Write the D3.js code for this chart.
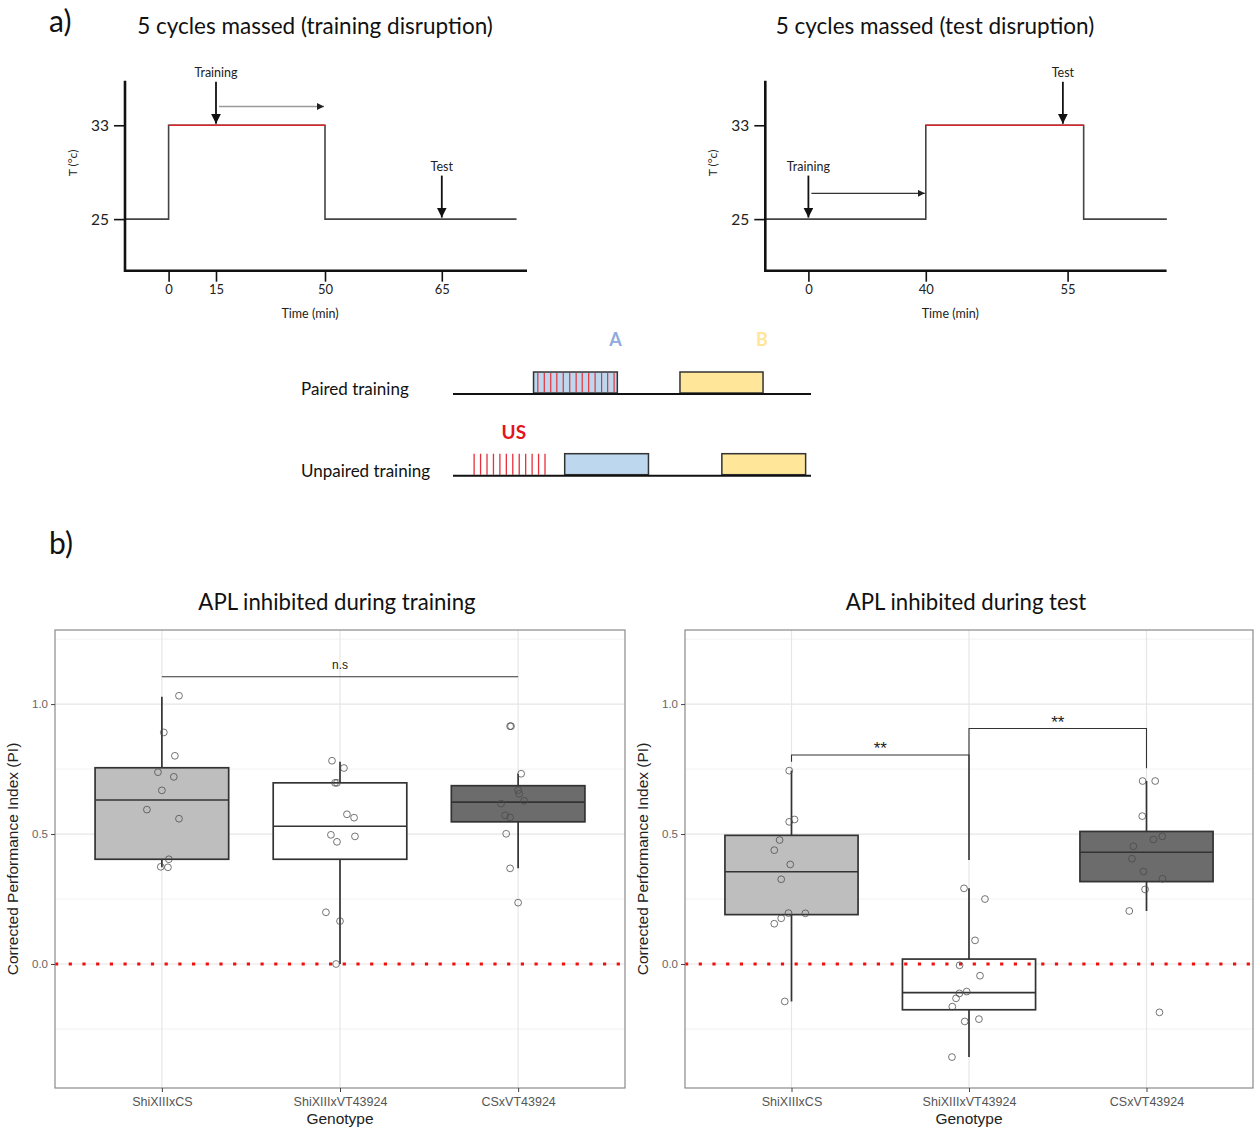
<!DOCTYPE html>
<html><head><meta charset="utf-8">
<script src="https://cdn.jsdelivr.net/npm/d3@7"></script>
<style>body{margin:0;background:#fff} svg{display:block}</style>
</head><body>
<svg id="fig" width="1254" height="1129"></svg>
<script>
// ================= DATA =================
// --- a) temperature schematics ---
const tempTicks = [25, 33];
const tempExtent = [20.6, 36.8];
const trainDisruptTimeTicks = [0, 15, 50, 65];
const testDisruptTimeTicks = [0, 40, 55];
const trainDisruptSteps = [[-13.8, 25], [0, 25], [0, 33], [50, 33], [50, 25], [74.6, 25]];
const testDisruptSteps = [[-14.7, 25], [40, 25], [40, 33], [56.7, 33], [56.7, 25], [65.5, 25]];
const trainDisruptHeat = [0, 50];
const testDisruptHeat = [40, 56.7];
const trainDisruptEvents = [{name: "Training", t: 15, T: 33}, {name: "Test", t: 65, T: 25}];
const testDisruptEvents = [{name: "Training", t: 0, T: 25}, {name: "Test", t: 54.5, T: 33}];
const trainDisruptShift = [15, 50];
const testDisruptShift = [0, 40];

// --- a) conditioning protocol (schematic time units 0-100) ---
const protocolRows = ["Paired training", "Unpaired training"];
const odorBlocks = [
  {row: 0, odor: "A", start: 22.5, end: 45.9},
  {row: 0, odor: "B", start: 63.4, end: 86.6},
  {row: 1, odor: "A", start: 31.2, end: 54.6},
  {row: 1, odor: "B", start: 75.1, end: 98.5}
];
const pairedShocks = [23.7, 25.5, 27.3, 29.0, 30.8, 32.6, 34.4, 36.1, 37.9, 39.7, 41.5, 43.2, 45.0];
const unpairedShocks = [5.9, 7.7, 9.5, 11.3, 13.1, 14.9, 16.7, 18.5, 20.3, 22.1, 23.9, 25.7];
const odorLabels = [{odor: "A", t: 45.4}, {odor: "B", t: 86.3}];
const usLabel = {text: "US", t: 17.0};

// --- b) box plots ---
const genotypes = ["ShiXIIIxCS", "ShiXIIIxVT43924", "CSxVT43924"];
const yMajorTicks = [0, 0.5, 1.0];
const yMinorTicks = [-0.25, 0.25, 0.75, 1.25];
const yLimits = [-0.477, 1.285];

// box stats: [lowerWhisker, Q1, median, Q3, upperWhisker]
const trainingStats = [
  [0.372, 0.403, 0.631, 0.755, 1.028],
  [0.0, 0.403, 0.530, 0.697, 0.778],
  [0.368, 0.547, 0.623, 0.686, 0.732]
];
const testStats = [
  [-0.144, 0.190, 0.355, 0.495, 0.744],
  [-0.358, -0.176, -0.110, 0.019, 0.291],
  [0.204, 0.317, 0.430, 0.510, 0.704]
];
// points: [jitter (category units), PI]
const trainingPoints = [
  [[0.096, 1.032], [0.011, 0.891], [0.073, 0.801], [-0.022, 0.738], [0.067, 0.720], [0, 0.668],
   [-0.084, 0.594], [0.096, 0.559], [0.039, 0.403], [-0.006, 0.374], [0.034, 0.372]],
  [[-0.045, 0.782], [0.022, 0.754], [-0.028, 0.697], [-0.017, 0.697], [0.039, 0.576], [0.079, 0.563],
   [-0.051, 0.497], [0.084, 0.491], [-0.017, 0.470], [-0.079, 0.199], [0, 0.165], [-0.022, 0.0]],
  [[-0.045, 0.915], [-0.040, 0.915], [0.017, 0.732], [0, 0.669], [0.006, 0.655], [0.034, 0.628],
   [-0.096, 0.617], [-0.073, 0.572], [-0.045, 0.564], [-0.067, 0.501], [-0.045, 0.368], [0, 0.236]]
];
const testPoints = [
  [[-0.013, 0.744], [0.017, 0.556], [-0.013, 0.547], [-0.067, 0.477], [-0.097, 0.438], [-0.007, 0.383],
   [-0.058, 0.326], [-0.017, 0.196], [0.078, 0.195], [-0.058, 0.176], [-0.097, 0.155], [-0.038, -0.144]],
  [[-0.028, 0.291], [0.090, 0.250], [0.034, 0.091], [-0.053, -0.005], [0.062, -0.045], [-0.013, -0.106],
   [-0.054, -0.113], [-0.073, -0.132], [-0.094, -0.164], [0.056, -0.212], [-0.024, -0.221], [-0.096, -0.358]],
  [[-0.022, 0.704], [0.049, 0.704], [-0.024, 0.569], [0.089, 0.491], [0.039, 0.479], [-0.074, 0.453],
   [-0.082, 0.405], [-0.017, 0.356], [0.090, 0.328], [-0.008, 0.287], [-0.097, 0.204], [0.073, -0.186]]
];
// significance brackets: [fromIdx, toIdx, y, leftLegEnd, rightLegEnd, label]
const trainingBrackets = [[0, 2, 1.105, 1.105, 1.105, "n.s"]];
const testBrackets = [
  [0, 1, 0.804, 0.778, 0.40, "**"],
  [1, 2, 0.906, 0.40, 0.753, "**"]
];
const referenceLine = 0;

// ================= DRAW =================
const svg = d3.select("#fig");
svg.append("rect").attr("width", 1254).attr("height", 1129).attr("fill", "#fff");
const CAL = "Lato, 'Open Sans', 'Noto Sans', sans-serif";
const ARIAL = "'Liberation Sans', Arial, Helvetica, sans-serif";

const defs = svg.append("defs");
function marker(id, size, color) {
  defs.append("marker").attr("id", id).attr("viewBox", "0 0 10 10")
    .attr("refX", 10).attr("refY", 5).attr("markerUnits", "userSpaceOnUse")
    .attr("markerWidth", size).attr("markerHeight", size).attr("orient", "auto")
    .append("path").attr("d", "M0,0L10,5L0,10Z").attr("fill", color);
}
marker("arrowBig", 10, "#111");
marker("arrowSmall", 7, "#222");

svg.append("text").attr("x", 49).attr("y", 32).text("a)")
  .style("font-family", CAL).style("font-size", "30px").attr("fill", "#111");
svg.append("text").attr("x", 49).attr("y", 554).text("b)")
  .style("font-family", CAL).style("font-size", "30px").attr("fill", "#111");

// ---------- temperature diagrams ----------
function tempDiagram(cfg) {
  const g = svg.append("g");
  const y = d3.scaleLinear().domain(tempExtent).range([270.7, 80.7]);
  const x = d3.scaleLinear().domain(cfg.ticks).range(cfg.rangeOffsets.map(v => v + cfg.ox));
  const xEnd = cfg.ox + cfg.width;

  g.append("text").attr("x", cfg.titleX).attr("y", 34).attr("text-anchor", "middle")
    .text(cfg.title).style("font-family", CAL).style("font-size", "22.5px").attr("fill", "#111");

  // step line
  const line = d3.line().x(d => x(d[0])).y(d => y(d[1])).curve(d3.curveLinear);
  g.append("path").attr("d", line(cfg.steps)).attr("fill", "none")
    .attr("stroke", "#444").attr("stroke-width", 1.6);
  g.append("path").attr("d", line([[cfg.heat[0], 33], [cfg.heat[1], 33]]))
    .attr("stroke", "#d9262b").attr("stroke-width", 1.6);

  // axes
  const ax = g.append("g").attr("transform", `translate(0,${y(tempExtent[0])})`)
    .call(d3.axisBottom(x).tickValues(cfg.ticks).tickSize(11).tickPadding(3).tickFormat(d3.format("d")));
  ax.select(".domain").remove();
  ax.selectAll(".tick line").attr("stroke", "#111").attr("stroke-width", 1.6);
  ax.selectAll(".tick text").style("font-family", CAL).style("font-size", "13px").attr("fill", "#222");

  const ay = g.append("g").attr("transform", `translate(${cfg.ox},0)`)
    .call(d3.axisLeft(y).tickValues(tempTicks).tickSize(11).tickPadding(5));
  ay.select(".domain").remove();
  ay.selectAll(".tick line").attr("stroke", "#111").attr("stroke-width", 1.6);
  ay.selectAll(".tick text").style("font-family", CAL).style("font-size", "15.5px").attr("fill", "#222");

  g.append("path").attr("d", `M${cfg.ox},${y(tempExtent[1])}V${y(tempExtent[0])}H${xEnd}`)
    .attr("fill", "none").attr("stroke", "#111").attr("stroke-width", 2.6);

  g.append("text").attr("transform", `translate(${cfg.ox - 48},${163}) rotate(-90)`)
    .attr("text-anchor", "middle").text("T (°c)")
    .style("font-family", CAL).style("font-size", "12px").attr("fill", "#222");
  g.append("text").attr("x", cfg.ox + 185).attr("y", 318).attr("text-anchor", "middle")
    .text("Time (min)").style("font-family", CAL).style("font-size", "12.5px").attr("fill", "#222");

  // event arrows
  cfg.events.forEach(e => {
    const yEnd = y(e.T) - 1.5;
    const yStart = yEnd - 42;
    g.append("line").attr("x1", x(e.t)).attr("x2", x(e.t)).attr("y1", yStart).attr("y2", yEnd)
      .attr("stroke", "#111").attr("stroke-width", 1.8).attr("marker-end", "url(#arrowBig)");
    g.append("text").attr("x", x(e.t)).attr("y", yStart - 5).attr("text-anchor", "middle")
      .text(e.name).style("font-family", CAL).style("font-size", "12.5px").attr("fill", "#222");
  });
  // shift arrow
  g.append("line").attr("x1", x(cfg.shift[0]) + 3).attr("x2", x(cfg.shift[1]) - 1)
    .attr("y1", y(cfg.shiftT)).attr("y2", y(cfg.shiftT))
    .attr("stroke", cfg.shiftColor).attr("stroke-width", 1.3).attr("marker-end", "url(#arrowSmall)");
}

tempDiagram({
  ox: 125, width: 402, title: "5 cycles massed (training disruption)", titleX: 315,
  ticks: trainDisruptTimeTicks, rangeOffsets: [43.6, 91, 200, 316.8],
  steps: trainDisruptSteps, heat: trainDisruptHeat, events: trainDisruptEvents,
  shift: trainDisruptShift, shiftT: 34.6, shiftColor: "#9a9a9a"
});
tempDiagram({
  ox: 765.3, width: 401.3, title: "5 cycles massed (test disruption)", titleX: 935,
  ticks: testDisruptTimeTicks, rangeOffsets: [43.1, 160.5, 302.3],
  steps: testDisruptSteps, heat: testDisruptHeat, events: testDisruptEvents,
  shift: testDisruptShift, shiftT: 27.2, shiftColor: "#333"
});

// ---------- protocol diagram ----------
(function () {
  const g = svg.append("g");
  const x = d3.scaleLinear().domain([0, 100]).range([453, 811]);
  const rowY = d3.scalePoint().domain([0, 1]).range([394, 475.7]);
  const odorFill = {A: "#bdd7ee", B: "#ffe699"};
  const odorText = {A: "#8faadc", B: "#ffe699"};

  protocolRows.forEach((r, i) => {
    g.append("text").attr("x", 301).attr("y", rowY(i) + 1).text(r)
      .style("font-family", CAL).style("font-size", "17px").attr("fill", "#111");
  });
  g.selectAll("rect.odor").data(odorBlocks).join("rect").attr("class", "odor")
    .attr("x", d => x(d.start)).attr("width", d => x(d.end) - x(d.start))
    .attr("y", d => rowY(d.row) - 22).attr("height", 21)
    .attr("fill", d => odorFill[d.odor]).attr("stroke", "#333").attr("stroke-width", 1.5);
  g.selectAll("line.ps").data(pairedShocks).join("line").attr("class", "ps")
    .attr("x1", d => x(d)).attr("x2", d => x(d))
    .attr("y1", rowY(0) - 21).attr("y2", rowY(0) - 2)
    .attr("stroke", "#e8303a").attr("stroke-width", 1.2);
  g.selectAll("line.us").data(unpairedShocks).join("line").attr("class", "us")
    .attr("x1", d => x(d)).attr("x2", d => x(d))
    .attr("y1", rowY(1) - 22).attr("y2", rowY(1) - 1)
    .attr("stroke", "#e8303a").attr("stroke-width", 1.3);
  protocolRows.forEach((r, i) => {
    g.append("line").attr("x1", x(0)).attr("x2", x(100)).attr("y1", rowY(i)).attr("y2", rowY(i))
      .attr("stroke", "#111").attr("stroke-width", 2);
  });
  odorLabels.forEach(d => {
    g.append("text").attr("x", x(d.t)).attr("y", 346).attr("text-anchor", "middle").text(d.odor)
      .style("font-family", CAL).style("font-size", "18px").style("font-weight", "bold")
      .attr("fill", odorText[d.odor]);
  });
  g.append("text").attr("x", x(usLabel.t)).attr("y", 438.5).attr("text-anchor", "middle").text(usLabel.text)
    .style("font-family", CAL).style("font-size", "19px").style("font-weight", "bold").attr("fill", "#e3141c");
})();

// ---------- box plot panels ----------
function boxPanel(cfg) {
  const top = 630, bottom = 1088;
  const g = svg.append("g");
  const y = d3.scaleLinear().domain(yLimits).range([bottom, top]);
  const x = d3.scalePoint().domain(genotypes).range([cfg.x0, cfg.x1]).padding(0.6);
  const step = x.step();
  const hw = step * 0.375;

  g.append("text").attr("x", cfg.titleX).attr("y", 610).attr("text-anchor", "middle").text(cfg.title)
    .style("font-family", CAL).style("font-size", "22.2px").attr("fill", "#111");

  g.append("rect").attr("x", cfg.x0).attr("y", top).attr("width", cfg.x1 - cfg.x0).attr("height", bottom - top)
    .attr("fill", "#fff");
  yMinorTicks.forEach(v => g.append("line").attr("x1", cfg.x0).attr("x2", cfg.x1)
    .attr("y1", y(v)).attr("y2", y(v)).attr("stroke", "#efefef").attr("stroke-width", 0.8));
  yMajorTicks.forEach(v => g.append("line").attr("x1", cfg.x0).attr("x2", cfg.x1)
    .attr("y1", y(v)).attr("y2", y(v)).attr("stroke", "#e6e6e6").attr("stroke-width", 1.2));
  genotypes.forEach(d => g.append("line").attr("x1", x(d)).attr("x2", x(d))
    .attr("y1", top).attr("y2", bottom).attr("stroke", "#e6e6e6").attr("stroke-width", 1.2));

  const fills = ["#bebebe", "#ffffff", "#6c6c6c"];
  cfg.stats.forEach((s, i) => {
    const cx = x(genotypes[i]);
    const [lo, q1, med, q3, hi] = s;
    g.append("line").attr("x1", cx).attr("x2", cx).attr("y1", y(lo)).attr("y2", y(q1))
      .attr("stroke", "#333").attr("stroke-width", 1.7);
    g.append("line").attr("x1", cx).attr("x2", cx).attr("y1", y(q3)).attr("y2", y(hi))
      .attr("stroke", "#333").attr("stroke-width", 1.7);
    g.append("rect").attr("x", cx - hw).attr("width", 2 * hw).attr("y", y(q3)).attr("height", y(q1) - y(q3))
      .attr("fill", fills[i]).attr("stroke", "#333").attr("stroke-width", 1.7);
    g.append("line").attr("x1", cx - hw).attr("x2", cx + hw).attr("y1", y(med)).attr("y2", y(med))
      .attr("stroke", "#333").attr("stroke-width", 1.7);
  });

  g.append("line").attr("x1", cfg.x0).attr("x2", cfg.x1).attr("y1", y(referenceLine)).attr("y2", y(referenceLine))
    .attr("stroke", "#f01010").attr("stroke-width", 3.2).attr("stroke-dasharray", "3.2 10.5");

  cfg.points.forEach((arr, i) => {
    const cx = x(genotypes[i]);
    arr.forEach(p => g.append("circle").attr("cx", cx + p[0] * step).attr("cy", y(p[1])).attr("r", 3.4)
      .attr("fill", "none").attr("stroke", "#4a4a4a").attr("stroke-width", 0.9).attr("stroke-opacity", 0.85));
  });

  cfg.brackets.forEach(b => {
    const [a, c, yv, l1, l2, lab] = b;
    const xa = x(genotypes[a]), xc = x(genotypes[c]);
    g.append("path").attr("d", `M${xa},${y(l1)}V${y(yv)}H${xc}V${y(l2)}`)
      .attr("fill", "none").attr("stroke", "#333").attr("stroke-width", 1.1);
    const isStar = lab.indexOf("*") >= 0;
    g.append("text").attr("x", (xa + xc) / 2).attr("y", y(yv) - (isStar ? 1 : 7.5))
      .attr("text-anchor", "middle").text(lab)
      .style("font-family", ARIAL).style("font-size", isStar ? "17px" : "12px").attr("fill", "#222");
  });

  g.append("rect").attr("x", cfg.x0).attr("y", top).attr("width", cfg.x1 - cfg.x0).attr("height", bottom - top)
    .attr("fill", "none").attr("stroke", "#8a8a8a").attr("stroke-width", 1.2);

  // y axis
  const ay = g.append("g").attr("transform", `translate(${cfg.x0},0)`)
    .call(d3.axisLeft(y).tickValues(yMajorTicks).tickSize(4).tickPadding(3).tickFormat(d3.format(".1f")));
  ay.select(".domain").remove();
  ay.selectAll(".tick line").attr("stroke", "#444").attr("stroke-width", 1);
  ay.selectAll(".tick text").style("font-family", ARIAL).style("font-size", "11.5px").attr("fill", "#666");
  // x axis
  const axx = g.append("g").attr("transform", `translate(0,${bottom})`)
    .call(d3.axisBottom(x).tickSize(4).tickPadding(5));
  axx.select(".domain").remove();
  axx.selectAll(".tick line").attr("stroke", "#444").attr("stroke-width", 1);
  axx.selectAll(".tick text").style("font-family", ARIAL).style("font-size", "12.5px").attr("fill", "#555");

  g.append("text").attr("x", (cfg.x0 + cfg.x1) / 2).attr("y", 1124).attr("text-anchor", "middle").text("Genotype")
    .style("font-family", ARIAL).style("font-size", "15.5px").attr("fill", "#222");
  g.append("text").attr("transform", `translate(${cfg.x0 - 37},${(top + bottom) / 2}) rotate(-90)`)
    .attr("text-anchor", "middle").text("Corrected Performance Index (PI)")
    .style("font-family", ARIAL).style("font-size", "15.5px").attr("fill", "#222");
}

boxPanel({x0: 55, x1: 625, title: "APL inhibited during training", titleX: 337,
  stats: trainingStats, points: trainingPoints, brackets: trainingBrackets});
boxPanel({x0: 685, x1: 1253, title: "APL inhibited during test", titleX: 966,
  stats: testStats, points: testPoints, brackets: testBrackets});
</script>
</body></html>
